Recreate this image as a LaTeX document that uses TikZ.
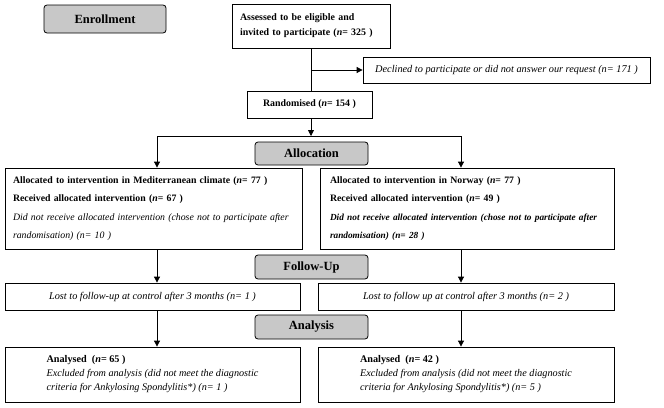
\documentclass[tikz,border=0pt]{standalone}
\usepackage{fontspec}
\setmainfont{Liberation Serif}
\usetikzlibrary{arrows.meta}
\definecolor{lblgray}{HTML}{C8C8C8}
\begin{document}
\begin{tikzpicture}[x=1pt,y=-1pt,
  box/.style={draw,line width=0.8pt,inner sep=0pt,font=\fontsize{10.2}{12}\selectfont},
  label/.style={draw,line width=0.8pt,fill=lblgray,rounded corners=3pt,inner sep=0pt,font=\bfseries\fontsize{12.5}{14}\selectfont},
  arr/.style={line width=0.8pt,-{Triangle[width=6pt,length=6pt]}},
  ln/.style={line width=0.8pt}]
\useasboundingbox (0,0) rectangle (664,407);
\node[label,minimum width=122pt,minimum height=28pt] (enroll) at (105,19) {Enrollment};
\node[box,minimum width=158pt,minimum height=44pt,text width=142pt,align=left,font=\bfseries\fontsize{9.9}{15}\selectfont] (assess) at (311,26) {Assessed to be eligible and\\invited to participate (\textit{n}= 325 )};
\node[box,minimum width=287pt,minimum height=26pt,font=\itshape\fontsize{10.3}{12}\selectfont] (declined) at (506.5,70) {Declined to participate or did not answer our request (n= 171 )};
\node[box,minimum width=125pt,minimum height=27pt,font=\bfseries\fontsize{9.9}{12}\selectfont] (rand) at (309.5,104.5) {Randomised (\textit{n}= 154 )};
\node[label,minimum width=113pt,minimum height=23pt] (alloc) at (311.5,153.5) {Allocation};
\node[box,minimum width=297pt,minimum height=81pt,text width=281pt,align=left,font=\fontsize{9.8}{18.5}\selectfont] (allocL) at (153.5,208.5) {\mbox{\textbf{Allocated to intervention in Mediterranean climate (\textit{n}= 77 )}}\\\mbox{\textbf{Received allocated intervention (\textit{n}= 67 )}}\\\mbox{\textit{Did not receive allocated intervention (chose not to participate after}}\\\mbox{\textit{randomisation) (n= 10 )}}};
\node[box,minimum width=294pt,minimum height=81pt,text width=274pt,align=left,font=\fontsize{9.8}{18.5}\selectfont] (allocR) at (467,208.5) {\mbox{\textbf{Allocated to intervention in Norway (\textit{n}= 77 )}}\\\mbox{\textbf{Received allocated intervention (\textit{n}= 49 )}}\\\mbox{\fontsize{9.3}{18.5}\selectfont\textbf{\textit{Did not receive allocated intervention (chose not to participate after}}}\\\mbox{\fontsize{9.3}{18.5}\selectfont\textbf{\textit{randomisation) (n= 28 )}}}};
\node[label,minimum width=113pt,minimum height=24pt] (follow) at (311.5,267) {Follow-Up};
\node[box,minimum width=295pt,minimum height=27pt,font=\itshape\fontsize{10.3}{12}\selectfont] (lostL) at (152.5,296.5) {Lost to follow-up at control after 3 months (n= 1 )};
\node[box,minimum width=296pt,minimum height=27pt,font=\itshape\fontsize{10.3}{12}\selectfont] (lostR) at (466,296.5) {Lost to follow up at control after 3 months (n= 2 )};
\node[label,minimum width=113pt,minimum height=24pt] (analysis) at (311.5,327) {Analysis};
\node[box,minimum width=295pt,minimum height=55pt,align=left,font=\fontsize{10.2}{14}\selectfont] (anL) at (152.5,374.5) {\textbf{Analysed\ \ (\textit{n}= 65 )}\\\textit{Excluded from analysis (did not meet the diagnostic}\\\textit{criteria for Ankylosing Spondylitis*) (n= 1 )}};
\node[box,minimum width=296pt,minimum height=55pt,align=left,font=\fontsize{10.2}{14}\selectfont] (anR) at (466,374.5) {\textbf{Analysed\ \ (\textit{n}= 42 )}\\\textit{Excluded from analysis (did not meet the diagnostic}\\\textit{criteria for Ankylosing Spondylitis*) (n= 5 )}};
\coordinate (branch) at (311,70);
\coordinate (split) at (311,136);
\coordinate (colL) at (157,136);
\coordinate (colR) at (461,136);
\draw[ln] (assess.south) -- (assess.south |- rand.north);
\draw[arr] (branch) -- (declined.west);
\draw[arr] (rand.south -| split) -- (split);
\draw[ln] (colL) -- (colR);
\draw[arr] (colL) -- (colL |- allocL.north);
\draw[arr] (colR) -- (colR |- allocR.north);
\draw[arr] (allocL.south -| colL) -- (colL |- lostL.north);
\draw[arr] (allocR.south -| colR) -- (colR |- lostR.north);
\draw[arr] (lostL.south -| colL) -- (colL |- anL.north);
\draw[arr] (lostR.south -| colR) -- (colR |- anR.north);
\end{tikzpicture}
\end{document}
